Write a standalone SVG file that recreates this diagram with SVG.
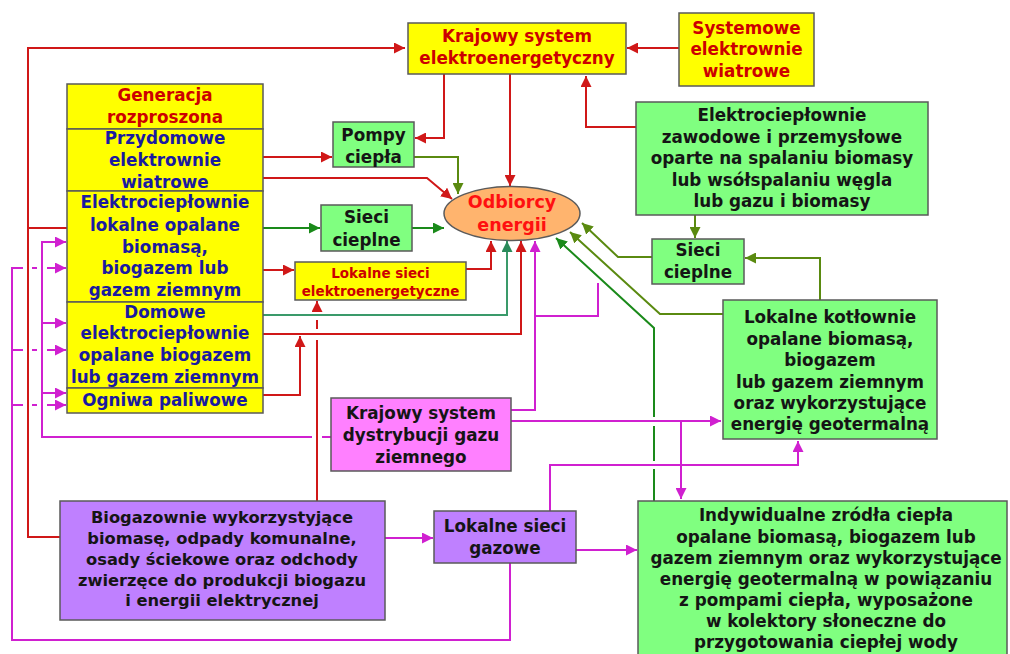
<svg xmlns="http://www.w3.org/2000/svg" width="1010" height="654" viewBox="0 0 1010 654">
<style>
.bx{stroke:#5a5a5a;stroke-width:1.5}
.y{fill:#ffff00}.g{fill:#80ff80}.m{fill:#ff80ff}.p{fill:#bf80ff}
text{font-family:"DejaVu Sans","Liberation Sans",sans-serif;font-weight:bold;text-anchor:middle;font-size:16.8px}
.tr{fill:#cc0000}.tb{fill:#1a1aa0}.tk{fill:#151515}.tO{fill:#ff1010}
.c{fill:none;stroke-width:2}
.r{stroke:#d01818}.gr{stroke:#1a8a1a}.ol{stroke:#5a8a10}.sg{stroke:#3a9a6a}.mg{stroke:#d020d0}
</style>
<defs>
<marker id="ar" viewBox="0 0 10 10" refX="10" refY="5" markerWidth="11" markerHeight="11" markerUnits="userSpaceOnUse" orient="auto"><path d="M0,0L10,5L0,10z" fill="#d01818"/></marker>
<marker id="ag" viewBox="0 0 10 10" refX="10" refY="5" markerWidth="11" markerHeight="11" markerUnits="userSpaceOnUse" orient="auto"><path d="M0,0L10,5L0,10z" fill="#1a8a1a"/></marker>
<marker id="ao" viewBox="0 0 10 10" refX="10" refY="5" markerWidth="11" markerHeight="11" markerUnits="userSpaceOnUse" orient="auto"><path d="M0,0L10,5L0,10z" fill="#5a8a10"/></marker>
<marker id="as" viewBox="0 0 10 10" refX="10" refY="5" markerWidth="11" markerHeight="11" markerUnits="userSpaceOnUse" orient="auto"><path d="M0,0L10,5L0,10z" fill="#2a8a5a"/></marker>
<marker id="am" viewBox="0 0 10 10" refX="10" refY="5" markerWidth="11" markerHeight="11" markerUnits="userSpaceOnUse" orient="auto"><path d="M0,0L10,5L0,10z" fill="#d020d0"/></marker>
</defs>
<rect width="1010" height="654" fill="#fff"/>
<g id="connectors">
<path class="c r" d="M60,537H28V48H405" marker-end="url(#ar)"/>
<path class="c r" d="M28,228H67"/>
<path class="c r" d="M679,48H627" marker-end="url(#ar)"/>
<path class="c r" d="M636,127H586V76" marker-end="url(#ar)"/>
<path class="c r" d="M444,74V138H415" marker-end="url(#ar)"/>
<path class="c r" d="M510,74V186" marker-end="url(#ar)"/>
<path class="c r" d="M263,157H332" marker-end="url(#ar)"/>
<path class="c r" d="M263,178H427L452,199" marker-end="url(#ar)"/>
<path class="c r" d="M263,270H294" marker-end="url(#ar)"/>
<path class="c r" d="M466,269H491V241" marker-end="url(#ar)"/>
<path class="c r" d="M263,334H521V241" marker-end="url(#ar)"/>
<path class="c r" d="M263,395H300V336" marker-end="url(#ar)"/>
<path class="c r" d="M317,501V340M317,329V320M317,312V301" marker-end="url(#ar)"/>
<path class="c ol" d="M414,157H458V194" marker-end="url(#ao)"/>
<path class="c gr" d="M263,228H320" marker-end="url(#ag)"/>
<path class="c gr" d="M412,228H444" marker-end="url(#ag)"/>
<path class="c sg" d="M263,315H507V241" marker-end="url(#as)"/>
<path class="c ol" d="M695,215V238" marker-end="url(#ao)"/>
<path class="c ol" d="M652,257H618L582,223" marker-end="url(#ao)"/>
<path class="c ol" d="M723,314H660L570,232" marker-end="url(#ao)"/>
<path class="c gr" d="M654,501V469M654,461V426M654,417V328L556,238" marker-end="url(#ag)"/>
<path class="c ol" d="M820,300V258H745" marker-end="url(#ao)"/>
<path class="c mg" d="M511,410H535V241" marker-end="url(#am)"/>
<path class="c mg" d="M535,316H598V283"/>
<path class="c mg" d="M511,421H721" marker-end="url(#am)"/>
<path class="c mg" d="M681,421V499" marker-end="url(#am)"/>
<path class="c mg" d="M331,437H322M312,437H42V242H66" marker-end="url(#am)"/>
<path class="c mg" d="M42,323H66" marker-end="url(#am)"/>
<path class="c mg" d="M42,393H66" marker-end="url(#am)"/>
<path class="c mg" d="M510,563V640H12V268H23M32,268H37M47,268H66" marker-end="url(#am)"/>
<path class="c mg" d="M12,350H23M32,350H37M47,350H66" marker-end="url(#am)"/>
<path class="c mg" d="M12,405H23M32,405H37M47,405H66" marker-end="url(#am)"/>
<path class="c mg" d="M385,538H433" marker-end="url(#am)"/>
<path class="c mg" d="M576,550H637" marker-end="url(#am)"/>
<path class="c mg" d="M550,511V465H798V441" marker-end="url(#am)"/>
</g>
<g id="kse"><rect class="bx y" x="408" y="23" width="218" height="51"/><text class="tr" x="517" y="42">Krajowy system</text><text class="tr" x="517" y="64">elektroenergetyczny</text></g>
<g id="sew"><rect class="bx y" x="679" y="13" width="135" height="73"/><text class="tr" x="746.5" y="34">Systemowe</text><text class="tr" x="746.5" y="55">elektrownie</text><text class="tr" x="746.5" y="77">wiatrowe</text></g>
<g id="ecz"><rect class="bx g" x="636" y="102" width="292" height="113"/><text class="tk" x="782" y="121">Elektrociepłownie</text><text class="tk" x="782" y="143">zawodowe i przemysłowe</text><text class="tk" x="782" y="164">oparte na spalaniu biomasy</text><text class="tk" x="782" y="186">lub wsółspalaniu węgla</text><text class="tk" x="782" y="207">lub gazu i biomasy</text></g>
<g id="gen"><rect class="bx y" x="67" y="84" width="196" height="45"/><text class="tr" x="165" y="101">Generacja</text><text class="tr" x="165" y="123">rozproszona</text></g>
<g id="pew"><rect class="bx y" x="67" y="129" width="196" height="62"/><text class="tb" x="165" y="144">Przydomowe</text><text class="tb" x="165" y="166">elektrownie</text><text class="tb" x="165" y="188">wiatrowe</text></g>
<g id="ecl"><rect class="bx y" x="67" y="191" width="196" height="111"/><text class="tb" x="165" y="208">Elektrociepłownie</text><text class="tb" x="165" y="231">lokalne opalane</text><text class="tb" x="165" y="253">biomasą,</text><text class="tb" x="165" y="274">biogazem lub</text><text class="tb" x="165" y="296">gazem ziemnym</text></g>
<g id="dec"><rect class="bx y" x="67" y="302" width="196" height="86"/><text class="tb" x="165" y="318">Domowe</text><text class="tb" x="165" y="339">elektrociepłownie</text><text class="tb" x="165" y="361">opalane biogazem</text><text class="tb" x="165" y="383">lub gazem ziemnym</text></g>
<g id="ogn"><rect class="bx y" x="67" y="388" width="196" height="25"/><text class="tb" x="165" y="406">Ogniwa paliwowe</text></g>
<g id="pc"><rect class="bx g" x="333" y="122" width="81" height="45"/><text class="tk" x="373.5" y="141">Pompy</text><text class="tk" x="373.5" y="163">ciepła</text></g>
<g id="sc1"><rect class="bx g" x="321" y="205" width="91" height="46"/><text class="tk" x="366.5" y="223">Sieci</text><text class="tk" x="366.5" y="246">cieplne</text></g>
<g id="odb"><ellipse cx="512" cy="213.5" rx="68" ry="27" fill="#ffb46e" stroke="#5a5a5a" stroke-width="1.5"/><text class="tO" x="512" y="208" style="font-size:17.5px">Odbiorcy</text><text class="tO" x="512" y="231" style="font-size:17.5px">energii</text></g>
<g id="lse"><rect class="bx y" x="295" y="262" width="171" height="38"/><text class="tr" x="380.5" y="278" style="font-size:13.5px">Lokalne sieci</text><text class="tr" x="380.5" y="296" style="font-size:13.5px">elektroenergetyczne</text></g>
<g id="sc2"><rect class="bx g" x="652" y="239" width="92" height="45"/><text class="tk" x="698" y="256">Sieci</text><text class="tk" x="698" y="278">cieplne</text></g>
<g id="lk"><rect class="bx g" x="723" y="300" width="214" height="139"/><text class="tk" x="830" y="323">Lokalne kotłownie</text><text class="tk" x="830" y="345">opalane biomasą,</text><text class="tk" x="830" y="366">biogazem</text><text class="tk" x="830" y="388">lub gazem ziemnym</text><text class="tk" x="830" y="409">oraz wykorzystujące</text><text class="tk" x="830" y="430">energię geotermalną</text></g>
<g id="ksd"><rect class="bx m" x="331" y="398" width="180" height="73"/><text class="tk" x="421" y="419">Krajowy system</text><text class="tk" x="421" y="441">dystrybucji gazu</text><text class="tk" x="421" y="463">ziemnego</text></g>
<g id="bio"><rect class="bx p" x="60" y="501" width="325" height="119"/><text class="tk" x="222" y="523" style="font-size:16.3px">Biogazownie wykorzystyjące</text><text class="tk" x="222" y="544" style="font-size:16.3px">biomasę, odpady komunalne,</text><text class="tk" x="222" y="565" style="font-size:16.3px">osady ściekowe oraz odchody</text><text class="tk" x="222" y="586" style="font-size:16.3px">zwierzęce do produkcji biogazu</text><text class="tk" x="222" y="606" style="font-size:16.3px">i energii elektrycznej</text></g>
<g id="lsg"><rect class="bx p" x="434" y="511" width="142" height="52"/><text class="tk" x="505" y="532">Lokalne sieci</text><text class="tk" x="505" y="554">gazowe</text></g>
<g id="ind"><rect class="bx g" x="638" y="501" width="369" height="165"/><text class="tk" x="826" y="521">Indywidualne zródła ciepła</text><text class="tk" x="826" y="543">opalane biomasą, biogazem lub</text><text class="tk" x="826" y="564">gazem ziemnym oraz wykorzystujące</text><text class="tk" x="826" y="585">energię geotermalną w powiązaniu</text><text class="tk" x="826" y="606">z pompami ciepła, wyposażone</text><text class="tk" x="826" y="627">w kolektory słoneczne do</text><text class="tk" x="826" y="648">przygotowania ciepłej wody</text></g>
</svg>
